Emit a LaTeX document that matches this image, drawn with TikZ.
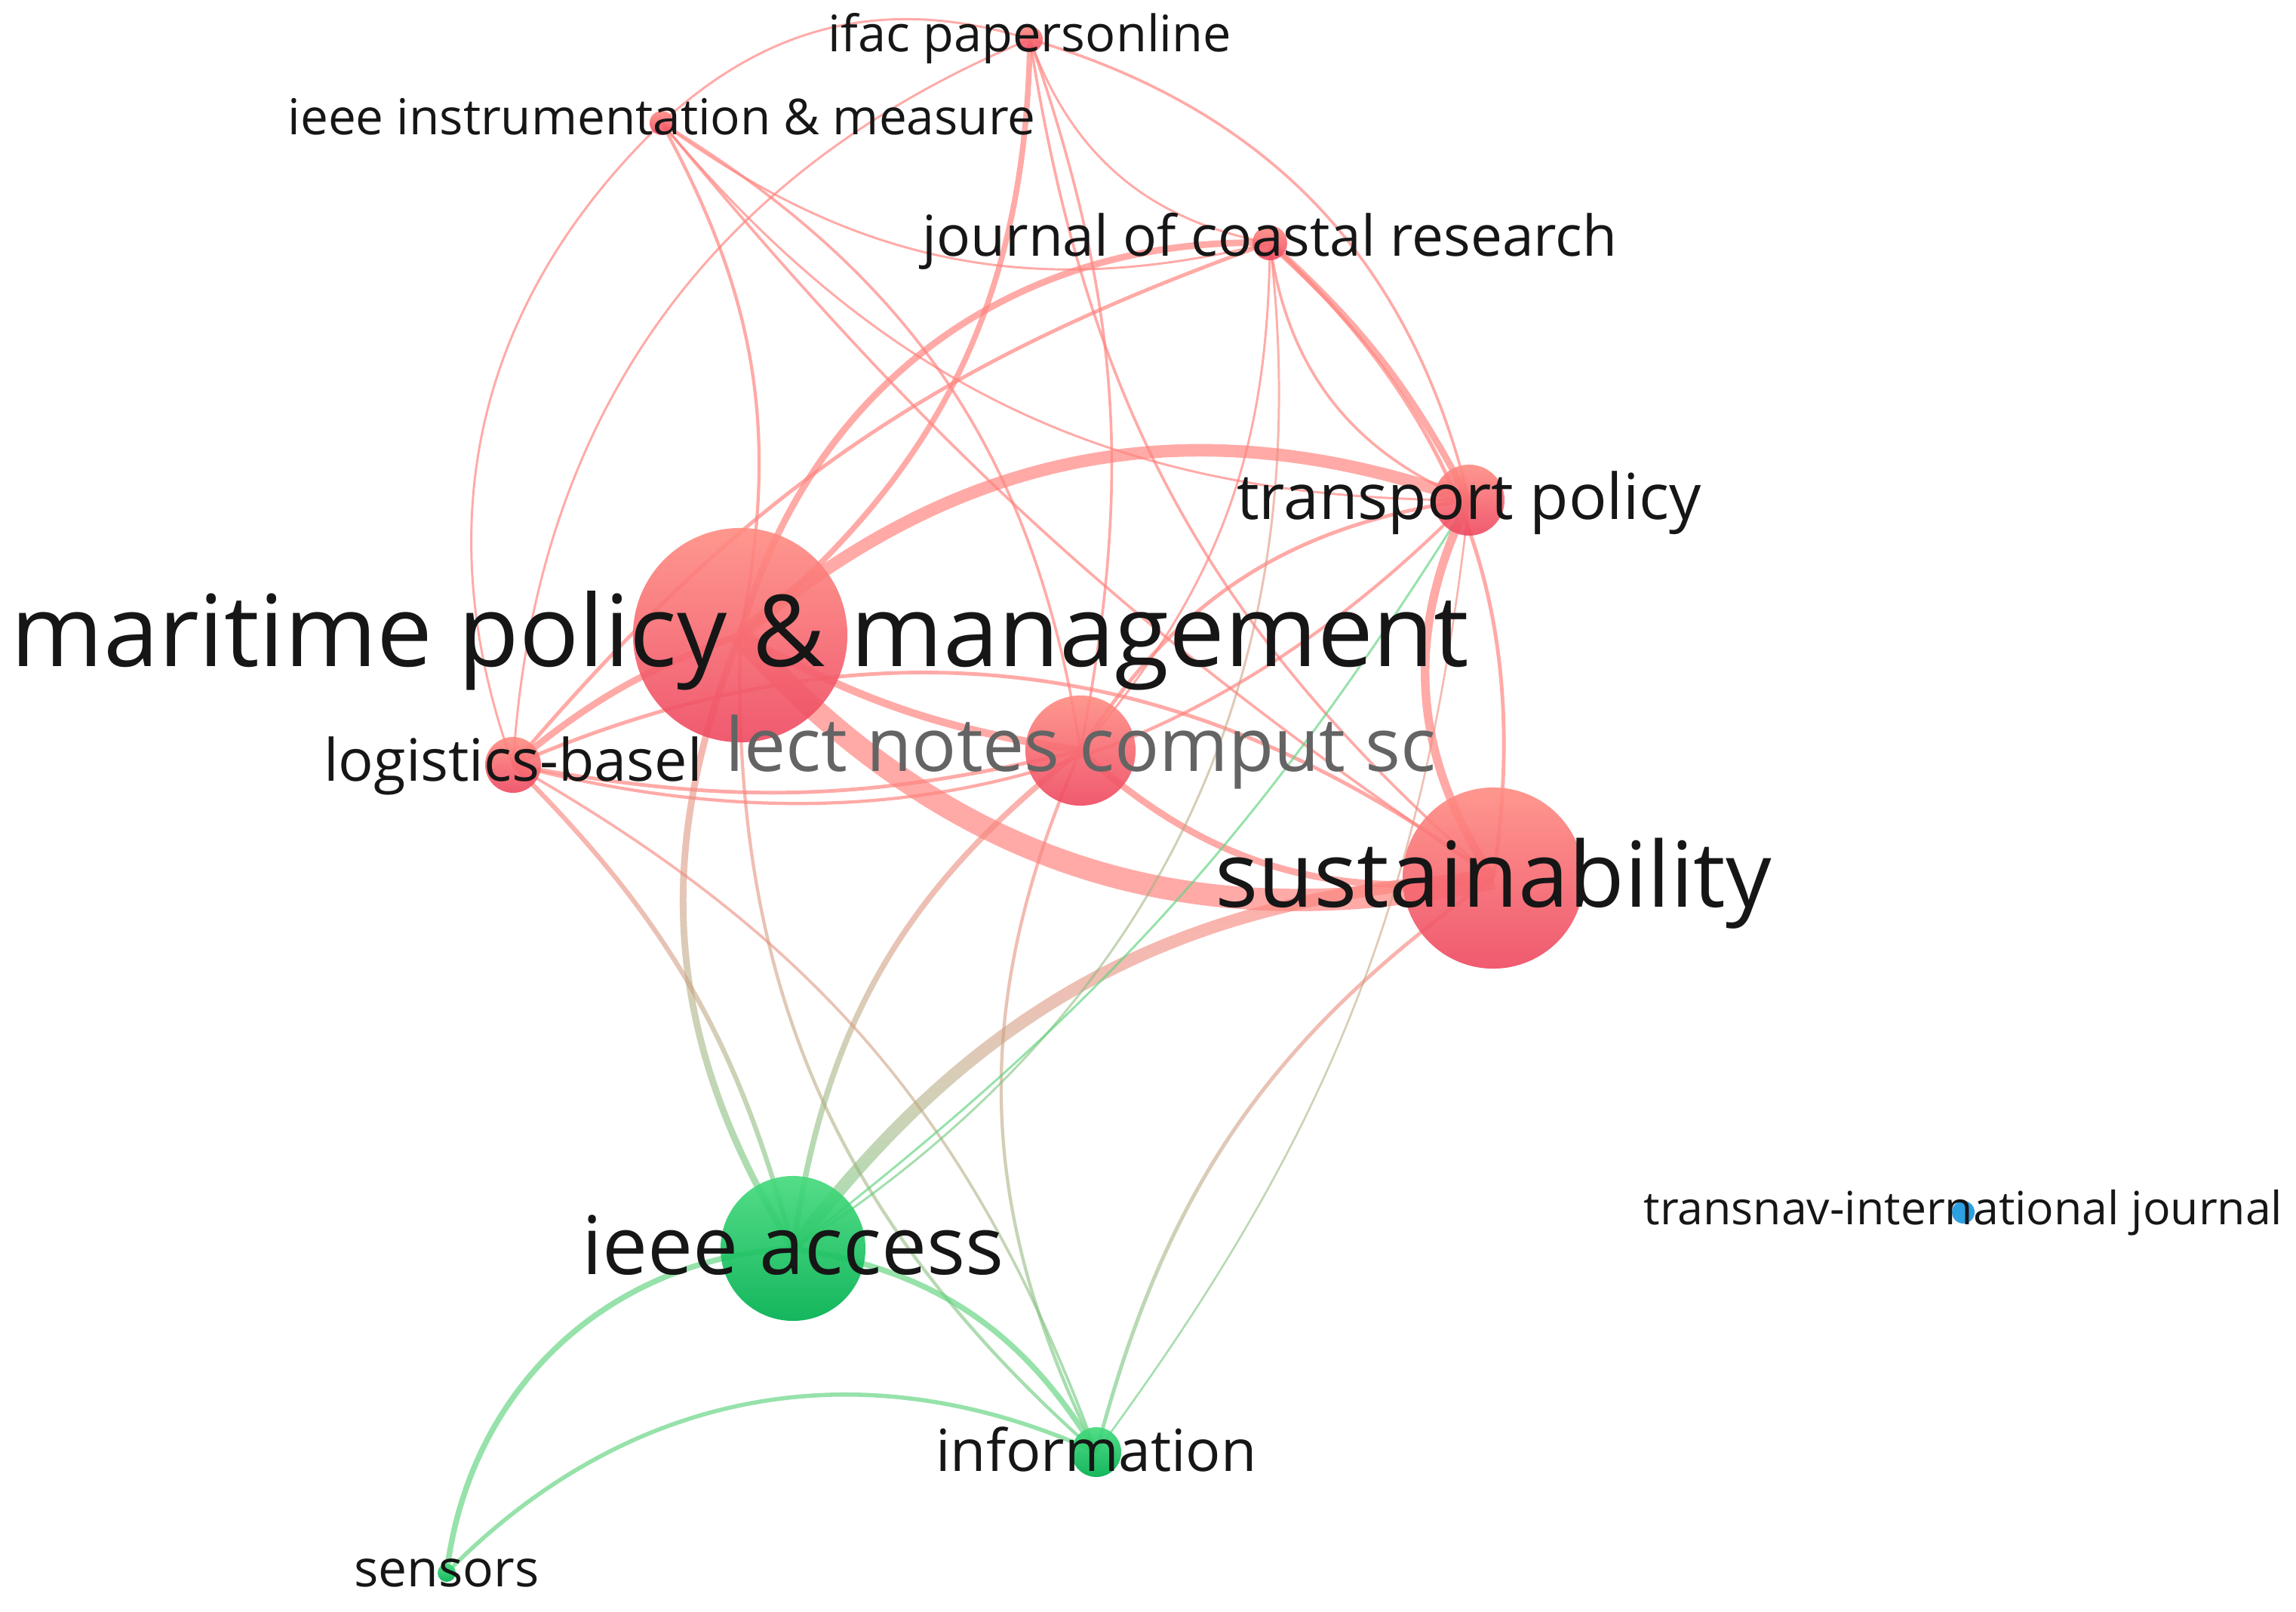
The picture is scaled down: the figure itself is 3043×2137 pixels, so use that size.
\documentclass[tikz,border=0pt]{standalone}
\usepackage{fontspec}
\setmainfont{Open Sans}
\usepackage{graphicx}
\usetikzlibrary{fadings,backgrounds}
\definecolor{edgeR}{RGB}{255,130,125}
\definecolor{edgeG}{RGB}{100,212,130}
\definecolor{redTop}{RGB}{255,140,130}
\definecolor{redBot}{RGB}{238,72,96}
\definecolor{grnTop}{RGB}{70,218,125}
\definecolor{grnBot}{RGB}{0,176,80}
\definecolor{bluN}{RGB}{45,160,225}
\definecolor{labc}{RGB}{22,22,22}
\definecolor{labgray}{RGB}{100,100,100}
\tikzset{
  rnode/.style={circle, inner sep=0pt, top color=redTop, bottom color=redBot, draw=none, fill opacity=0.9},
  gnode/.style={circle, inner sep=0pt, top color=grnTop, bottom color=grnBot, draw=none, fill opacity=0.92},
  bnode/.style={circle, inner sep=0pt, fill=bluN, draw=none},
  lab/.style={anchor=base, inner sep=0pt, text=labc},
  rw/.style={draw=edgeR, draw opacity=0.68, line width=(#1*1.3+1)*0.2845pt},
  gw/.style={draw=edgeG, draw opacity=0.68, line width=(#1*1.3+1)*0.2845pt},
}
\newcommand\mixedge[4]{%
  \draw[gw=#1, path fading=north] (#2.center) to[#4] (#3.center);
  \draw[rw=#1, path fading=south] (#2.center) to[#4] (#3.center);}
\begin{document}
\begin{tikzpicture}[x=0.01cm,y=-0.01cm]
\useasboundingbox (0,0) rectangle (3043,2137);
% nodes
\node[rnode, minimum size=2.84cm] (M)  at (981,842) {};
\node[rnode, minimum size=1.46cm] (L)  at (1432,995) {};
\node[rnode, minimum size=2.40cm] (S)  at (1979,1164) {};
\node[rnode, minimum size=0.94cm] (TP) at (1947,663) {};
\node[rnode, minimum size=0.46cm] (J)  at (1683,322) {};
\node[rnode, minimum size=0.34cm] (I)  at (1365,52) {};
\node[rnode, minimum size=0.32cm] (II) at (877,163) {};
\node[rnode, minimum size=0.74cm] (LB) at (680,1014) {};
\node[gnode, minimum size=1.92cm] (A)  at (1051,1655) {};
\node[gnode, minimum size=0.66cm] (In) at (1453,1925) {};
\node[gnode, minimum size=0.24cm] (Se) at (592,2085) {};
\node[bnode, minimum size=0.30cm] (T)  at (2602,1607) {};
% edges
\begin{scope}[on background layer]
\draw[rw=22] (M.center) to[bend right=30] (S.center);
\draw[rw=12] (M.center) to[bend left=30] (TP.center);
\draw[rw=6] (M.center) to[bend left=38] (J.center);
\draw[rw=5] (I.center) to[bend left=25] (M.center);
\draw[rw=2.5] (II.center) to[bend left=20] (M.center);
\draw[rw=7] (M.center) to[bend right=10] (L.center);
\draw[rw=6] (LB.center) to[bend left=10] (M.center);
\draw[rw=3] (LB.center) to[bend left=15] (J.center);
\draw[rw=3] (LB.center) to[bend left=30] (S.center);
\draw[rw=2.5] (TP.center) to[bend left=30] (LB.center);
\draw[rw=3] (LB.center) to[bend right=12] (L.center);
\draw[rw=6] (L.center) to[bend right=25] (S.center);
\draw[rw=3] (L.center) to[bend left=25] (TP.center);
\draw[rw=8] (TP.center) to[bend right=30] (S.center);
\draw[rw=3] (J.center) to[bend left=28] (S.center);
\draw[rw=6] (J.center) to[bend left=10] (TP.center);
\draw[rw=2] (J.center) to[bend right=30] (TP.center);
\draw[rw=2] (I.center) to[bend left=30] (TP.center);
\draw[rw=1.5] (I.center) to[bend right=30] (J.center);
\draw[rw=2] (I.center) to[bend left=15] (L.center);
\draw[rw=2] (I.center) to[bend right=20] (S.center);
\draw[rw=1.5] (I.center) to[bend right=30] (II.center);
\draw[rw=1.5] (I.center) to[bend right=32] (LB.center);
\draw[rw=1.5] (II.center) to[bend right=33] (LB.center);
\draw[rw=1.5] (II.center) to[bend right=25] (J.center);
\draw[rw=1.5] (II.center) to[bend right=25] (TP.center);
\draw[rw=2] (II.center) to[bend left=25] (L.center);
\draw[rw=2] (II.center) to[bend right=8] (S.center);
\draw[rw=1.5] (J.center) to[bend left=20] (L.center);
% mixed edges
\mixedge{6}{M}{A}{bend right=27}
\mixedge{4}{LB}{A}{bend left=15}
\mixedge{5}{L}{A}{bend right=22}
\mixedge{12}{S}{A}{bend right=25}
\mixedge{2}{LB}{In}{bend left=20}
\mixedge{2.5}{M}{In}{bend right=25}
\mixedge{2.5}{L}{In}{bend right=25}
\mixedge{3}{S}{In}{bend right=20}
\mixedge{1.2}{TP}{In}{bend left=15}
\mixedge{1.5}{J}{A}{bend left=32}
% green edges
\draw[gw=1.5] (A.center) to[bend right=10] (TP.center);
\draw[gw=5] (A.center) to[bend left=25] (In.center);
\draw[gw=5] (A.center) to[bend right=40] (Se.center);
\draw[gw=3.5] (Se.center) to[bend left=35] (In.center);
\end{scope}
% labels
\node[lab] (Mlab)  at (981,883)  {\resizebox{19.31cm}{!}{maritime policy \& management}};
\node[lab, text=labgray] (Llab) at (1432,1022) {\resizebox{9.41cm}{!}{lect notes comput sc}};
\node[lab] (Slab)  at (1979,1202) {\resizebox{7.37cm}{!}{sustainability}};
\node[lab] (TPlab) at (1947,688)  {\resizebox{6.15cm}{!}{transport policy}};
\node[lab] (Jlab)  at (1683,340)  {\resizebox{9.20cm}{!}{journal of coastal research}};
\node[lab] (Ilab)  at (1365,69)   {\resizebox{5.34cm}{!}{ifac papersonline}};
\node[lab] (IIlab) at (877,179)   {\resizebox{9.90cm}{!}{ieee instrumentation \& measure}};
\node[lab] (LBlab) at (680,1035)  {\resizebox{5.01cm}{!}{logistics-basel}};
\node[lab] (Alab)  at (1051,1689) {\resizebox{5.59cm}{!}{ieee access}};
\node[lab] (Inlab) at (1453,1950) {\resizebox{4.25cm}{!}{information}};
\node[lab] (Selab) at (592,2103)  {\resizebox{2.45cm}{!}{sensors}};
\node[lab] (Tlab)  at (2602,1623) {\resizebox{8.46cm}{!}{transnav-international journal}};
\end{tikzpicture}
\end{document}
